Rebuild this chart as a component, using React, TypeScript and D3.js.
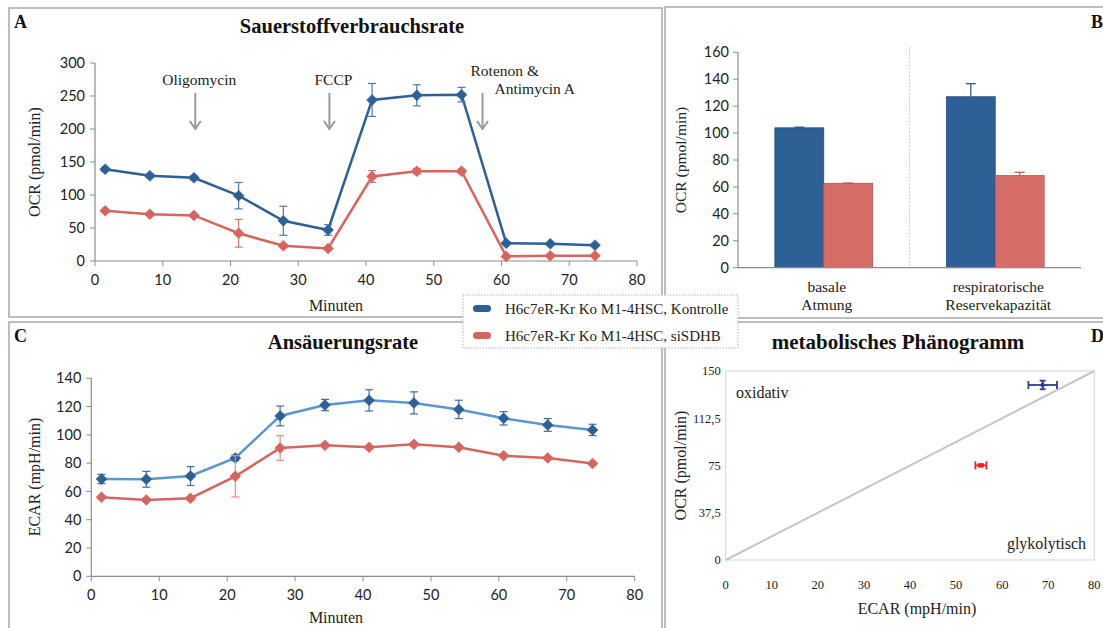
import React from "react";
import * as d3 from "d3";

// ---------- DATA ----------
const times = [1.5, 8.1, 14.6, 21.2, 27.8, 34.4, 40.9, 47.5, 54.1, 60.7, 67.2, 73.8];

const ocrKontrolle = [139, 129, 126, 99, 61, 47, 244, 251, 252, 27, 26, 24];
const ocrKontrolleErr = [3, 3, 3, 20, 22, 8, 25, 16, 11, 2, 2, 2];
const ocrSiSDHB = [76, 71, 69, 42, 23, 19, 128, 136, 136, 7, 8, 8];
const ocrSiSDHBErr = [2, 2, 2, 21, 3, 2, 9, 4, 3, 1, 1, 1];

const ecarKontrolle = [68.8, 68.6, 70.9, 83.7, 113.4, 121.1, 124.4, 122.6, 118, 111.7, 107, 103.5];
const ecarKontrolleErr = [3.3, 5.6, 6.7, 2, 7, 4, 7.5, 7.8, 6.5, 4.7, 4.5, 4];
const ecarSiSDHB = [55.9, 54, 55.2, 70.7, 90.7, 92.6, 91.2, 93.3, 91.2, 85.3, 83.7, 79.7];
const ecarSiSDHBErr = [1, 1, 1, 14.6, 8.7, 1, 1, 1, 1, 1, 1, 1];

const injections = [
  { t: 14.8, lines: ["Oligomycin"] },
  { t: 34.6, lines: ["FCCP"] },
  { t: 57.2, lines: ["Rotenon &", "Antimycin A"] },
];

const barCategories = ["basale|Atmung", "respiratorische|Reservekapazität"];
const barKontrolle = [103.9, 127];
const barKontrolleErr = [0.5, 9.7];
const barSiSDHB = [62.7, 68.4];
const barSiSDHBErr = [0.2, 2.5];

const phenoPoints = [
  { name: "Kontrolle", ecar: 68.8, ecarErr: 3.1, ocr: 138.9, ocrErr: 3.4 },
  { name: "siSDHB", ecar: 55.4, ecarErr: 1.2, ocr: 75.1, ocrErr: 1 },
];

const legendLabels = ["H6c7eR-Kr Ko M1-4HSC, Kontrolle", "H6c7eR-Kr Ko M1-4HSC, siSDHB"];

const xTicksTime = [0, 10, 20, 30, 40, 50, 60, 70, 80];
const yTicksOCR = [0, 50, 100, 150, 200, 250, 300];
const yTicksECAR = [0, 20, 40, 60, 80, 100, 120, 140];
const yTicksBar = [0, 20, 40, 60, 80, 100, 120, 140, 160];
const xTicksPheno = [0, 10, 20, 30, 40, 50, 60, 70, 80];
const yTicksPheno = [0, 37.5, 75, 112.5, 150];

// ---------- STYLE ----------
const SERIF = "'Liberation Serif', 'DejaVu Serif', serif";
const SANS = "Lato, 'Open Sans', sans-serif";
const BLUE = "#2e5f95";
const BLUE_LIGHT = "#5b95d2";
const RED = "#d4665f";
const AXIS = "#8c8c8c";
const BORDER = "#a8a8a8";

function diamond(cx: number, cy: number, r: number) {
  return `M${cx},${cy - r}L${cx + r},${cy}L${cx},${cy + r}L${cx - r},${cy}Z`;
}

type Series = { vals: number[]; errs: number[]; line: string; marker: string; err: string };

function LinePanel(props: {
  x0: number; x1: number; y0: number; y1: number;
  yMax: number; yTicks: number[]; series: Series[];
}) {
  const { x0, x1, y0, y1, yMax, yTicks, series } = props;
  const x = d3.scaleLinear().domain([0, 80]).range([x0, x1]);
  const y = d3.scaleLinear().domain([0, yMax]).range([y0, y1]);
  const line = d3.line<number>().x((_, i) => x(times[i])).y((v) => y(v));
  return (
    <g>
      <line x1={x0} x2={x0} y1={y0} y2={y1} stroke={AXIS} strokeWidth={1.2} />
      <line x1={x0} x2={x1} y1={y0} y2={y0} stroke={AXIS} strokeWidth={1.2} />
      {yTicks.map((t) => (
        <g key={"y" + t}>
          <line x1={x0 - 5} x2={x0} y1={y(t)} y2={y(t)} stroke={AXIS} />
          <text x={x0 - 10} y={y(t)} dy="0.35em" textAnchor="end" fontFamily={SANS} fontSize={14.5} fill="#222">{t}</text>
        </g>
      ))}
      {xTicksTime.map((t) => (
        <g key={"x" + t}>
          <line x1={x(t)} x2={x(t)} y1={y0} y2={y0 + 5} stroke={AXIS} />
          <text x={x(t)} y={y0 + 24} textAnchor="middle" fontFamily={SANS} fontSize={14.5} fill="#222">{t}</text>
        </g>
      ))}
      {series.map((s, si) => (
        <g key={si}>
          <path d={line(s.vals) || ""} fill="none" stroke={s.line} strokeWidth={2.5} />
          {s.vals.map((v, i) => {
            const cx = x(times[i]);
            const e = s.errs[i];
            return (
              <g key={i}>
                <line x1={cx} x2={cx} y1={y(v - e)} y2={y(v + e)} stroke={s.err} strokeWidth={1.2} />
                <line x1={cx - 4} x2={cx + 4} y1={y(v - e)} y2={y(v - e)} stroke={s.err} strokeWidth={1.2} />
                <line x1={cx - 4} x2={cx + 4} y1={y(v + e)} y2={y(v + e)} stroke={s.err} strokeWidth={1.2} />
              </g>
            );
          })}
          {s.vals.map((v, i) => (
            <path key={"m" + i} d={diamond(x(times[i]), y(v), 5.5)} fill={s.marker} stroke={s.marker} strokeWidth={0.5} />
          ))}
        </g>
      ))}
    </g>
  );
}

function BarPanel() {
  const x0 = 738, x1 = 1081, y0 = 267.7, y1 = 52.3;
  const x = d3.scaleBand<string>().domain(barCategories).range([x0, x1]);
  const bw = x.bandwidth();
  const xs = d3.scaleBand<string>().domain(["k", "s"]).range([bw * 0.215, bw * 0.785]);
  const y = d3.scaleLinear().domain([0, 160]).range([y0, y1]);
  const groups = [
    { key: "k", vals: barKontrolle, errs: barKontrolleErr, fill: BLUE, stroke: "#24507f" },
    { key: "s", vals: barSiSDHB, errs: barSiSDHBErr, fill: "#d66d66", stroke: "#b9524c" },
  ];
  return (
    <g>
      <line x1={x0 + bw} x2={x0 + bw} y1={y1 - 5} y2={y0} stroke="#bbb" strokeDasharray="1.5,2" />
      {groups.map((g) =>
        barCategories.map((c, i) => {
          const bx = (x(c) as number) + (xs(g.key) as number);
          const w = xs.bandwidth();
          const top = y(g.vals[i]);
          const eTop = y(g.vals[i] + g.errs[i]);
          const cx = bx + w / 2;
          return (
            <g key={g.key + c}>
              <rect x={bx} y={top} width={w} height={y0 - top} fill={g.fill} stroke={g.stroke} strokeWidth={0.8} />
              <line x1={cx} x2={cx} y1={top} y2={eTop} stroke={g.stroke} strokeWidth={1.2} />
              <line x1={cx - 5} x2={cx + 5} y1={eTop} y2={eTop} stroke={g.stroke} strokeWidth={1.2} />
            </g>
          );
        })
      )}
      <line x1={x0} x2={x0} y1={y0} y2={y1} stroke={AXIS} strokeWidth={1.2} />
      <line x1={x0} x2={x1} y1={y0} y2={y0} stroke={AXIS} strokeWidth={1.2} />
      {yTicksBar.map((t) => (
        <g key={t}>
          <line x1={x0 - 5} x2={x0} y1={y(t)} y2={y(t)} stroke={AXIS} />
          <text x={x0 - 9} y={y(t)} dy="0.35em" textAnchor="end" fontFamily={SANS} fontSize={14.5} fill="#222">{t}</text>
        </g>
      ))}
      {barCategories.map((c) => {
        const parts = c.split("|");
        const cx = (x(c) as number) + bw / 2 + 3;
        return (
          <text key={c} x={cx} textAnchor="middle" fontFamily={SERIF} fontSize={15.5} fill="#222">
            <tspan x={cx} y={292}>{parts[0]}</tspan>
            <tspan x={cx} y={310}>{parts[1]}</tspan>
          </text>
        );
      })}
      <text transform={`translate(686,${(y0 + y1) / 2}) rotate(-90)`} textAnchor="middle" fontFamily={SERIF} fontSize={15.5} fill="#222">OCR (pmol/min)</text>
    </g>
  );
}

function PhenoPanel() {
  const x0 = 725.7, x1 = 1094.3, y0 = 560, y1 = 371;
  const x = d3.scaleLinear().domain([0, 80]).range([x0, x1]);
  const y = d3.scaleLinear().domain([0, 150]).range([y0, y1]);
  const colors = ["#2a3f8c", "#e3231f"];
  const fmt = (v: number) => String(v).replace(".", ",");
  return (
    <g>
      <rect x={x0} y={y1} width={x1 - x0} height={y0 - y1} fill="none" stroke="#d4d4d4" strokeWidth={1} />
      <line x1={x(0)} y1={y(0)} x2={x(80)} y2={y(150)} stroke="#c6c6c6" strokeWidth={2} />
      {yTicksPheno.map((t) => (
        <text key={t} x={x0 - 5} y={y(t)} dy="0.35em" textAnchor="end" fontFamily={SERIF} fontSize={12.5} fill="#222">{fmt(t)}</text>
      ))}
      {xTicksPheno.map((t) => (
        <text key={t} x={x(t)} y={589} textAnchor="middle" fontFamily={SERIF} fontSize={12.5} fill="#222">{t}</text>
      ))}
      {phenoPoints.map((p, i) => {
        const cx = x(p.ecar), cy = y(p.ocr);
        const c = colors[i];
        return (
          <g key={p.name}>
            <line x1={x(p.ecar - p.ecarErr)} x2={x(p.ecar + p.ecarErr)} y1={cy} y2={cy} stroke={c} strokeWidth={1.8} />
            <line x1={x(p.ecar - p.ecarErr)} x2={x(p.ecar - p.ecarErr)} y1={cy - 4} y2={cy + 4} stroke={c} strokeWidth={1.8} />
            <line x1={x(p.ecar + p.ecarErr)} x2={x(p.ecar + p.ecarErr)} y1={cy - 4} y2={cy + 4} stroke={c} strokeWidth={1.8} />
            <line x1={cx} x2={cx} y1={y(p.ocr - p.ocrErr)} y2={y(p.ocr + p.ocrErr)} stroke={c} strokeWidth={1.8} />
            <line x1={cx - 3} x2={cx + 3} y1={y(p.ocr - p.ocrErr)} y2={y(p.ocr - p.ocrErr)} stroke={c} strokeWidth={1.8} />
            <line x1={cx - 3} x2={cx + 3} y1={y(p.ocr + p.ocrErr)} y2={y(p.ocr + p.ocrErr)} stroke={c} strokeWidth={1.8} />
            <circle cx={cx} cy={cy} r={2.2} fill={c} />
          </g>
        );
      })}
      <text x={736} y={398} fontFamily={SERIF} fontSize={16} fill="#222">oxidativ</text>
      <text x={1086} y={549} textAnchor="end" fontFamily={SERIF} fontSize={16} fill="#222">glykolytisch</text>
      <text x={917} y={614} textAnchor="middle" fontFamily={SERIF} fontSize={16} fill="#222">ECAR (mpH/min)</text>
      <text transform={`translate(686,${(y0 + y1) / 2}) rotate(-90)`} textAnchor="middle" fontFamily={SERIF} fontSize={16} fill="#222">OCR (pmol/min)</text>
      <text x={898} y={349} textAnchor="middle" fontFamily={SERIF} fontWeight="bold" fontSize={21} fill="#111">metabolisches Phänogramm</text>
    </g>
  );
}

export default function App() {
  const xA = d3.scaleLinear().domain([0, 80]).range([95, 637]);
  return (
    <svg width={1103} height={628} style={{ position: "absolute", left: 0, top: 0, background: "#fff" }}>
      <rect x={0} y={0} width={1103} height={628} fill="#fff" />
      {/* panel frames */}
      <rect x={9} y={8} width={653} height={309} fill="none" stroke={BORDER} strokeWidth={1.5} />
      <rect x={665} y={7} width={450} height={311} fill="none" stroke={BORDER} strokeWidth={1.5} />
      <rect x={9} y={322} width={653} height={330} fill="none" stroke={BORDER} strokeWidth={1.5} />
      <rect x={665} y={322} width={450} height={330} fill="none" stroke={BORDER} strokeWidth={1.5} />

      {/* Panel A */}
      <text x={14} y={28} fontFamily={SERIF} fontWeight="bold" fontSize={18} fill="#111">A</text>
      <text x={352} y={33} textAnchor="middle" fontFamily={SERIF} fontWeight="bold" fontSize={20.5} fill="#111">Sauerstoffverbrauchsrate</text>
      <LinePanel x0={95} x1={637} y0={261} y1={63} yMax={300} yTicks={yTicksOCR}
        series={[
          { vals: ocrKontrolle, errs: ocrKontrolleErr, line: BLUE, marker: BLUE, err: "#4f79aa" },
          { vals: ocrSiSDHB, errs: ocrSiSDHBErr, line: RED, marker: RED, err: "#d9776f" },
        ]} />
      {injections.map((inj, i) => {
        const ax = xA(inj.t);
        return (
          <g key={i}>
            <line x1={ax} x2={ax} y1={93} y2={129} stroke="#9a9a9a" strokeWidth={2} />
            <path d={`M${ax - 5.5},${121}L${ax},${129}L${ax + 5.5},${121}`} fill="none" stroke="#9a9a9a" strokeWidth={2} />
            {inj.lines.length === 1 ? (
              <text x={ax + 4} y={85} textAnchor="middle" fontFamily={SERIF} fontSize={15.5} fill="#222">{inj.lines[0]}</text>
            ) : (
              <g>
                <text x={ax - 12} y={76} fontFamily={SERIF} fontSize={15.5} fill="#222">{inj.lines[0]}</text>
                <text x={ax + 12} y={94} fontFamily={SERIF} fontSize={15.5} fill="#222">{inj.lines[1]}</text>
              </g>
            )}
          </g>
        );
      })}
      <text x={336} y={311} textAnchor="middle" fontFamily={SERIF} fontSize={16} fill="#222">Minuten</text>
      <text transform="translate(40,162) rotate(-90)" textAnchor="middle" fontFamily={SERIF} fontSize={16} fill="#222">OCR (pmol/min)</text>

      {/* Panel B */}
      <text x={1091} y={28} fontFamily={SERIF} fontWeight="bold" fontSize={18} fill="#111">B</text>
      <BarPanel />

      {/* Panel C */}
      <text x={14} y={342} fontFamily={SERIF} fontWeight="bold" fontSize={18} fill="#111">C</text>
      <text x={343} y={349} textAnchor="middle" fontFamily={SERIF} fontWeight="bold" fontSize={20.5} fill="#111">Ansäuerungsrate</text>
      <LinePanel x0={91.3} x1={634.7} y0={576.3} y1={378.3} yMax={140} yTicks={yTicksECAR}
        series={[
          { vals: ecarKontrolle, errs: ecarKontrolleErr, line: BLUE_LIGHT, marker: BLUE, err: "#3f6da3" },
          { vals: ecarSiSDHB, errs: ecarSiSDHBErr, line: RED, marker: RED, err: "#e0908a" },
        ]} />
      <text x={336} y={623} textAnchor="middle" fontFamily={SERIF} fontSize={16} fill="#222">Minuten</text>
      <text transform="translate(40,477) rotate(-90)" textAnchor="middle" fontFamily={SERIF} fontSize={16} fill="#222">ECAR (mpH/min)</text>

      {/* Panel D */}
      <text x={1091} y={342} fontFamily={SERIF} fontWeight="bold" fontSize={18} fill="#111">D</text>
      <PhenoPanel />

      {/* Legend */}
      <rect x={463} y={295} width={275} height={53} fill="#fff" stroke="#b5b5b5" strokeDasharray="1.5,1.5" />
      {legendLabels.map((l, i) => (
        <g key={l}>
          <rect x={473} y={305 + i * 27} width={18} height={7} rx={3.5} fill={i === 0 ? BLUE : RED} />
          <text x={505} y={313.5 + i * 27} fontFamily={SERIF} fontSize={15} fill="#222">{l}</text>
        </g>
      ))}
    </svg>
  );
}
